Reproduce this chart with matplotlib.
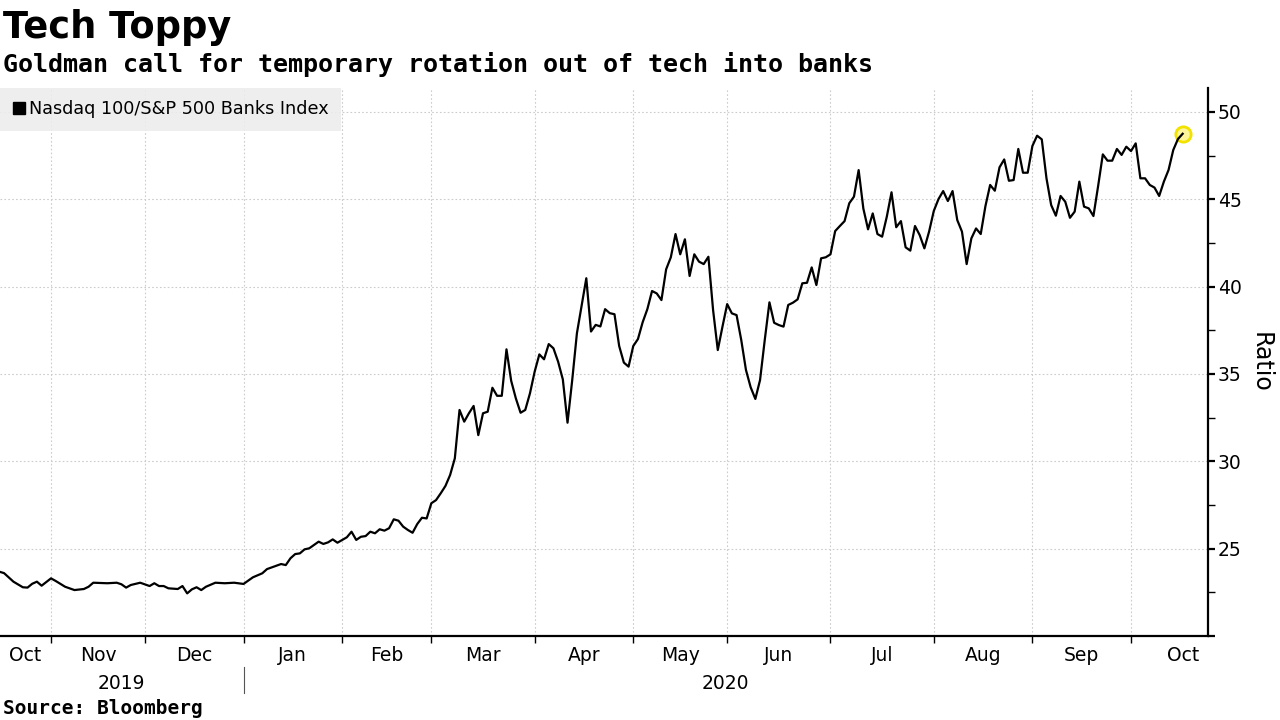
import numpy as np
import pandas as pd
import matplotlib
matplotlib.use("Agg")
import matplotlib.pyplot as plt
import matplotlib.transforms as mtransforms
from matplotlib.lines import Line2D
from matplotlib.ticker import FixedLocator, FixedFormatter, NullFormatter

# ---------------- data (daily closes, trading days) ----------------
dates = [
    "2019-10-17", "2019-10-18", "2019-10-22", "2019-10-24", "2019-10-25", "2019-10-28",
    "2019-10-29", "2019-10-30", "2019-11-01", "2019-11-04", "2019-11-06", "2019-11-08",
    "2019-11-12", "2019-11-13", "2019-11-14", "2019-11-19", "2019-11-21", "2019-11-22",
    "2019-11-25", "2019-11-26", "2019-11-29", "2019-12-03", "2019-12-04", "2019-12-05",
    "2019-12-06", "2019-12-09", "2019-12-11", "2019-12-12", "2019-12-13", "2019-12-16",
    "2019-12-17", "2019-12-18", "2019-12-19", "2019-12-23", "2019-12-26", "2019-12-30",
    "2020-01-02", "2020-01-06", "2020-01-08", "2020-01-09", "2020-01-14", "2020-01-15",
    "2020-01-16", "2020-01-17", "2020-01-21", "2020-01-22", "2020-01-23", "2020-01-24",
    "2020-01-27", "2020-01-28", "2020-01-29", "2020-01-30", "2020-01-31", "2020-02-04",
    "2020-02-05", "2020-02-06", "2020-02-07", "2020-02-10", "2020-02-11", "2020-02-12",
    "2020-02-13", "2020-02-14", "2020-02-18", "2020-02-19", "2020-02-20", "2020-02-21",
    "2020-02-24", "2020-02-25", "2020-02-26", "2020-02-27", "2020-02-28", "2020-03-02",
    "2020-03-03", "2020-03-04", "2020-03-05", "2020-03-06", "2020-03-09", "2020-03-10",
    "2020-03-11", "2020-03-12", "2020-03-13", "2020-03-16", "2020-03-17", "2020-03-18",
    "2020-03-19", "2020-03-20", "2020-03-23", "2020-03-24", "2020-03-25", "2020-03-26",
    "2020-03-27", "2020-03-30", "2020-03-31", "2020-04-01", "2020-04-02", "2020-04-03",
    "2020-04-06", "2020-04-07", "2020-04-08", "2020-04-09", "2020-04-13", "2020-04-14",
    "2020-04-15", "2020-04-17", "2020-04-20", "2020-04-21", "2020-04-22", "2020-04-23",
    "2020-04-24", "2020-04-27", "2020-04-28", "2020-04-29", "2020-04-30", "2020-05-01",
    "2020-05-04", "2020-05-05", "2020-05-06", "2020-05-07", "2020-05-08", "2020-05-11",
    "2020-05-12", "2020-05-13", "2020-05-14", "2020-05-15", "2020-05-18", "2020-05-19",
    "2020-05-20", "2020-05-21", "2020-05-22", "2020-05-26", "2020-05-27", "2020-05-28",
    "2020-05-29", "2020-06-01", "2020-06-02", "2020-06-03", "2020-06-04", "2020-06-05",
    "2020-06-08", "2020-06-09", "2020-06-10", "2020-06-11", "2020-06-12", "2020-06-15",
    "2020-06-16", "2020-06-17", "2020-06-18", "2020-06-19", "2020-06-22", "2020-06-23",
    "2020-06-24", "2020-06-25", "2020-06-26", "2020-06-29", "2020-06-30", "2020-07-01",
    "2020-07-02", "2020-07-06", "2020-07-07", "2020-07-08", "2020-07-09", "2020-07-10",
    "2020-07-13", "2020-07-14", "2020-07-15", "2020-07-16", "2020-07-17", "2020-07-20",
    "2020-07-21", "2020-07-22", "2020-07-23", "2020-07-24", "2020-07-27", "2020-07-28",
    "2020-07-29", "2020-07-30", "2020-07-31", "2020-08-03", "2020-08-04", "2020-08-05",
    "2020-08-06", "2020-08-07", "2020-08-10", "2020-08-11", "2020-08-12", "2020-08-13",
    "2020-08-14", "2020-08-17", "2020-08-18", "2020-08-19", "2020-08-20", "2020-08-21",
    "2020-08-24", "2020-08-25", "2020-08-26", "2020-08-27", "2020-08-28", "2020-08-31",
    "2020-09-01", "2020-09-02", "2020-09-03", "2020-09-04", "2020-09-08", "2020-09-09",
    "2020-09-10", "2020-09-11", "2020-09-14", "2020-09-15", "2020-09-16", "2020-09-17",
    "2020-09-18", "2020-09-21", "2020-09-22", "2020-09-23", "2020-09-24", "2020-09-25",
    "2020-09-28", "2020-09-29", "2020-09-30", "2020-10-01", "2020-10-02", "2020-10-05",
    "2020-10-06", "2020-10-07", "2020-10-08", "2020-10-09", "2020-10-12", "2020-10-13",
    "2020-10-14", "2020-10-15", "2020-10-16",
]

ratio = [
    23.68, 23.60, 23.11, 22.79, 22.77, 22.99,
    23.11, 22.88, 23.30, 23.15, 22.82, 22.63,
    22.69, 22.82, 23.05, 23.02, 23.05, 22.96,
    22.77, 22.92, 23.05, 22.86, 23.02, 22.86,
    22.86, 22.73, 22.69, 22.86, 22.44, 22.67,
    22.79, 22.63, 22.82, 23.05, 23.02, 23.05,
    22.98, 23.36, 23.59, 23.83, 24.12, 24.06,
    24.45, 24.69, 24.73, 24.96, 25.02, 25.21,
    25.40, 25.27, 25.36, 25.53, 25.34, 25.65,
    25.97, 25.50, 25.68, 25.72, 25.97, 25.88,
    26.11, 26.03, 26.17, 26.68, 26.60, 26.26,
    26.07, 25.91, 26.41, 26.77, 26.73, 27.60,
    27.78, 28.17, 28.59, 29.22, 30.17, 32.94,
    32.27, 32.75, 33.17, 31.50, 32.75, 32.84,
    34.21, 33.75, 33.75, 36.41, 34.61, 33.60,
    32.78, 32.94, 33.89, 35.13, 36.12, 35.84,
    36.71, 36.47, 35.70, 34.69, 32.21, 34.65,
    37.33, 40.48, 37.43, 37.81, 37.72, 38.71,
    38.48, 38.42, 36.60, 35.65, 35.42, 36.60,
    37.00, 37.96, 38.71, 39.75, 39.61, 39.23,
    40.99, 41.68, 43.01, 41.85, 42.71, 40.61,
    41.85, 41.43, 41.29, 41.71, 38.66, 36.37,
    37.71, 39.00, 38.47, 38.37, 36.94, 35.23,
    34.24, 33.57, 34.65, 36.94, 39.10, 37.93,
    37.80, 37.71, 38.95, 39.08, 39.27, 40.19,
    40.22, 41.10, 40.09, 41.62, 41.68, 41.85,
    43.18, 43.47, 43.75, 44.77, 45.15, 46.67,
    44.47, 43.28, 44.19, 43.01, 42.86, 44.01,
    45.40, 43.40, 43.75, 42.25, 42.06, 43.47,
    42.95, 42.19, 43.15, 44.33, 45.01, 45.47,
    44.90, 45.47, 43.81, 43.15, 41.29, 42.76,
    43.33, 43.01, 44.61, 45.82, 45.49, 46.83,
    47.28, 46.06, 46.10, 47.88, 46.52, 46.52,
    48.05, 48.64, 48.43, 46.20, 44.67, 44.06,
    45.19, 44.86, 43.94, 44.29, 46.01, 44.58,
    44.48, 44.04, 45.76, 47.57, 47.21, 47.21,
    47.88, 47.54, 48.01, 47.76, 48.20, 46.20,
    46.20, 45.82, 45.67, 45.19, 46.01, 46.68,
    47.82, 48.45, 48.75,
]

# exchange holidays (the time axis runs over trading days only)
holidays = ["2019-11-28", "2019-12-25", "2020-01-01", "2020-01-20", "2020-02-17",
            "2020-04-10", "2020-05-25", "2020-07-03", "2020-09-07"]

series_label = "Nasdaq 100/S&P 500 Banks Index"
month_names = ["Oct", "Nov", "Dec", "Jan", "Feb", "Mar", "Apr",
               "May", "Jun", "Jul", "Aug", "Sep", "Oct"]
month_starts = ["2019-10-01", "2019-11-01", "2019-12-01", "2020-01-01", "2020-02-01",
                "2020-03-01", "2020-04-01", "2020-05-01", "2020-06-01", "2020-07-01",
                "2020-08-01", "2020-09-01", "2020-10-01", "2020-11-01"]
years = ["2019", "2020"]
y_major = [20, 25, 30, 35, 40, 45, 50]
y_major_labels = ["", "25", "30", "35", "40", "45", "50"]
y_minor = [22.5, 27.5, 32.5, 37.5, 42.5, 47.5]

title = "Tech Toppy"
subtitle = "Goldman call for temporary rotation out of tech into banks"
source = "Source: Bloomberg"
ylabel = "Ratio"

assert len(dates) == len(ratio)

# ---------------- trading-day scale ----------------
cal = pd.bdate_range("2019-10-01", "2020-11-30", freq="C", holidays=holidays)
origin = cal.get_indexer([pd.Timestamp("2019-11-01")])[0]


def tpos(day_strings):
    """Position of a date on the trading-day axis (first trading day on/after)."""
    ts = pd.to_datetime(day_strings)
    return np.searchsorted(cal.values, ts.values) - origin


x = tpos(dates)

# ---------------- figure ----------------
plt.rcParams["font.family"] = ["DejaVu Sans"]
W, H = 1280, 720
fig = plt.figure(figsize=(W / 100, H / 100), dpi=100)
fig.patch.set_facecolor("white")

ax_left, ax_right, ax_top, ax_bottom = 0, 1208, 88, 636
ax = fig.add_axes([ax_left / W, 1 - ax_bottom / H,
                   (ax_right - ax_left) / W, (ax_bottom - ax_top) / H])

ax.plot(x, ratio, color="black", linewidth=1.6, zorder=3)
ax.plot(x[-1], ratio[-1], marker="o", markersize=11, markerfacecolor="#fff59a",
        markeredgecolor="#f2e200", markeredgewidth=2, zorder=2, linestyle="none")

px_per_day = (1131 - 51) / 230.0
xmin = -51 / px_per_day
xmax = (1208 - 51) / px_per_day
ax.set_xlim(xmin, xmax)
ax.set_ylim(20, 51.37)

# x ticks: month boundaries (marks + grid), month names centred in each month
ms = tpos(month_starts).astype(float)
ax.xaxis.set_major_locator(FixedLocator([m for m in ms if xmin < m < xmax]))
ax.xaxis.set_major_formatter(NullFormatter())
mids = [(max(ms[i], xmin) + ms[i + 1]) / 2 for i in range(len(month_names))]
ax.xaxis.set_minor_locator(FixedLocator(mids))
ax.xaxis.set_minor_formatter(FixedFormatter(month_names))
ax.tick_params(axis="x", which="major", direction="out", length=5, width=1.0,
               color="black")
ax.tick_params(axis="x", which="minor", length=0, pad=7, labelsize=13.5)

# y axis on right
ax.yaxis.tick_right()
ax.yaxis.set_label_position("right")
ax.yaxis.set_major_locator(FixedLocator(y_major))
ax.yaxis.set_major_formatter(FixedFormatter(y_major_labels))
ax.yaxis.set_minor_locator(FixedLocator(y_minor))
ax.tick_params(axis="y", which="major", direction="out", length=5, width=1.6,
               pad=2, labelsize=13.5, color="black")
ax.tick_params(axis="y", which="minor", direction="out", length=5, width=1.0,
               color="black")
ax.set_ylabel(ylabel, rotation=-90, fontsize=17, labelpad=22)

ax.grid(True, which="major", axis="both", color="#cccccc",
        linestyle=(0, (1.5, 2)), linewidth=0.8, zorder=0)
for s in ["top", "left"]:
    ax.spines[s].set_visible(False)
ax.spines["bottom"].set_linewidth(1.6)
ax.spines["right"].set_linewidth(1.6)
ax.set_facecolor("white")

# year labels and separator
trans = mtransforms.blended_transform_factory(ax.transData, ax.transAxes)
jan1 = tpos(["2020-01-01"])[0]
ax.text((xmin + jan1) / 2, -0.0858, years[0], transform=trans, ha="center",
        va="center", fontsize=13.5)
ax.text((jan1 + xmax) / 2, -0.0858, years[1], transform=trans, ha="center",
        va="center", fontsize=13.5)
ax.plot([jan1, jan1], [-0.0566, -0.104], transform=trans, color="#555555",
        linewidth=0.8, clip_on=False)

# legend
handle = Line2D([], [], marker="s", color="black", linestyle="none", markersize=9)
leg = ax.legend([handle], [series_label], loc="upper left", bbox_to_anchor=(0, 1),
                borderaxespad=0, frameon=True, fancybox=False, facecolor="#ececec",
                edgecolor="none", framealpha=0.85, fontsize=12.7, handlelength=0.7,
                handletextpad=0.25, borderpad=0.7)
leg.set_zorder(5)

# titles
fig.text(3 / W, 1 - 38 / H, title, fontsize=26.5, fontweight="bold",
         va="baseline", ha="left")
fig.text(3 / W, 1 - 72 / H, subtitle, fontsize=18, fontweight="bold",
         family="DejaVu Sans Mono", va="baseline", ha="left")
fig.text(3 / W, 1 - 714 / H, source, fontsize=14, fontweight="bold",
         family="DejaVu Sans Mono", va="baseline", ha="left")

fig.savefig("out.png", dpi=100, facecolor="white")
